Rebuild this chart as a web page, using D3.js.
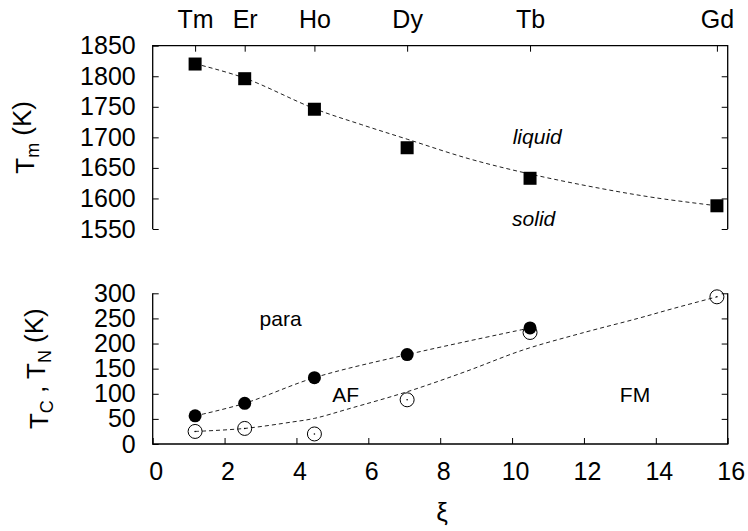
<!DOCTYPE html>
<html><head><meta charset="utf-8">
<script src="https://cdn.jsdelivr.net/npm/d3@7"></script>
<style>
body{margin:0;background:#fff}
text{font-family:"Liberation Sans",Arial,Helvetica,sans-serif;fill:#000}
</style></head>
<body><svg id="c" width="748" height="531"></svg>
<script>
// element labels and their xi positions
const elements = ["Tm","Er","Ho","Dy","Tb","Gd"];
const xi = [1.18, 2.56, 4.5, 7.08, 10.5, 15.7];
// melting temperatures (K)
const meltT = [1820, 1796, 1746, 1683, 1633, 1588];
// dashed guide curve through melting data
const meltFitXi = [1.18, 2.56, 4.5, 5.8, 7.08, 8.8, 10.5, 12.5, 14.0, 15.7];
const meltFitT  = [1820.5, 1797, 1747, 1721, 1697, 1665, 1640, 1616, 1601, 1588];
// Neel temperatures (filled circles), Tm..Tb
const neelT = [56, 81, 132, 178, 231];
// Curie / lower ordering temperatures (open circles), Tm..Gd
const curieT = [25, 31, 20, 88, 222, 293];
// dashed guide curve through Curie data
const curieFitXi = [1.18, 2.56, 3.9, 4.5, 5.5, 7.08, 8.7, 10.3, 11.9, 13.5, 14.5, 15.7];
const curieFitT  = [25, 31, 44, 51, 71, 104, 144, 187, 220, 250, 270, 293];
// axis ticks
const xTicks = [0,2,4,6,8,10,12,14,16];
const yTopTicks = [1550,1600,1650,1700,1750,1800,1850];
const yBotTicks = [0,50,100,150,200,250,300];

const svg = d3.select("#c");
const L = 152.7, R = 727.7;
const x = d3.scaleLinear().domain([0,16]).range([L,R]);
const yT = d3.scaleLinear().domain([1550,1850]).range([229,45.7]);
const yB = d3.scaleLinear().domain([0,300]).range([444,293.3]);
const FS = 25;

function styleAxis(g){
  g.select(".domain").remove();
  g.selectAll(".tick line").attr("stroke","#000").attr("stroke-width",1);
  g.selectAll(".tick text").attr("font-size",FS).attr("font-family","Liberation Sans, Arial, sans-serif").attr("fill","#000");
}
// upper panel axes
svg.append("g").attr("transform",`translate(${L},0)`)
  .call(d3.axisLeft(yT).tickValues(yTopTicks).tickSize(-6).tickPadding(17).tickFormat(d3.format("d"))).call(styleAxis);
svg.append("g").attr("transform",`translate(${R},0)`)
  .call(d3.axisRight(yT).tickValues(yTopTicks.slice(1,-1).concat([1550])).tickSize(-6).tickFormat("")).call(styleAxis);
svg.append("g").attr("transform",`translate(0,${yT(1850)})`)
  .call(d3.axisTop(x).tickValues(xi).tickSize(-6).tickPadding(17.5).tickFormat((d,i)=>elements[i])).call(styleAxis);
// lower panel axes
svg.append("g").attr("transform",`translate(${L},0)`)
  .call(d3.axisLeft(yB).tickValues(yBotTicks).tickSize(-6).tickPadding(17).tickFormat(d3.format("d"))).call(styleAxis);
svg.append("g").attr("transform",`translate(${R},0)`)
  .call(d3.axisRight(yB).tickValues(yBotTicks.slice(1)).tickSize(-6).tickFormat("")).call(styleAxis);
const xb = svg.append("g").attr("transform",`translate(0,${yB(0)})`)
  .call(d3.axisBottom(x).tickValues(xTicks).tickSize(-6).tickPadding(18).tickFormat(d3.format("d"))).call(styleAxis);
xb.selectAll(".tick text").attr("dx",3);

// frames: upper (left, top, right), lower (left, bottom, right)
const fr = svg.append("g").attr("fill","none").attr("stroke","#000").attr("stroke-width",1.3);
fr.append("path").attr("d",`M${L},${yT(1550)}V${yT(1850)}H${R}V${yT(1550)}`);
fr.append("path").attr("d",`M${L},${yB(300)}V${yB(0)}H${R}V${yB(300)}`);

// dashed curves
const dash = "4,3";
const lineT = d3.line().x(d=>x(d[0])).y(d=>yT(d[1])).curve(d3.curveCatmullRom);
svg.append("path").datum(meltFitXi.map((v,i)=>[v,meltFitT[i]]))
  .attr("d",lineT).attr("fill","none").attr("stroke","#222").attr("stroke-width",1).attr("stroke-dasharray",dash);
const lineB = d3.line().x(d=>x(d[0])).y(d=>yB(d[1])).curve(d3.curveCatmullRom);
svg.append("path").datum(neelT.map((v,i)=>[xi[i],v]))
  .attr("d",lineB).attr("fill","none").attr("stroke","#222").attr("stroke-width",1).attr("stroke-dasharray",dash);
svg.append("path").datum(curieFitXi.map((v,i)=>[v,curieFitT[i]]))
  .attr("d",lineB).attr("fill","none").attr("stroke","#222").attr("stroke-width",1).attr("stroke-dasharray",dash);

// markers
const S = 13;
svg.append("g").selectAll("rect").data(meltT).join("rect")
  .attr("x",(d,i)=>x(xi[i])-S/2).attr("y",d=>yT(d)-S/2).attr("width",S).attr("height",S).attr("fill","#000");
const oc = svg.append("g");
oc.selectAll("circle.o").data(curieT).join("circle").attr("class","o")
  .attr("cx",(d,i)=>x(xi[i])).attr("cy",d=>yB(d)).attr("r",7).attr("fill","none").attr("stroke","#000").attr("stroke-width",1);
oc.selectAll("circle.dot").data(curieT).join("circle").attr("class","dot")
  .attr("cx",(d,i)=>x(xi[i])).attr("cy",d=>yB(d)).attr("r",0.8).attr("fill","#000");
svg.append("g").selectAll("circle").data(neelT).join("circle")
  .attr("cx",(d,i)=>x(xi[i])).attr("cy",d=>yB(d)).attr("r",6.5).attr("fill","#000");

// region labels
function lab(t,xv,yv,scale,italic){
  svg.append("text").attr("x",x(xv)).attr("y",scale(yv)).attr("dy","0.36em")
    .attr("text-anchor","middle").attr("font-size",21).attr("font-style",italic?"italic":"normal").text(t);
}
lab("liquid",10.7,1701,yT,true);
lab("solid",10.6,1567,yT,true);
lab("para",3.56,250,yB,false);
lab("AF",5.37,99,yB,false);
lab("FM",13.42,99,yB,false);

// axis titles
const t1 = svg.append("text").attr("transform",`translate(33.5,${(yT(1550)+yT(1850))/2}) rotate(-90)`)
  .attr("text-anchor","middle").attr("font-size",26);
t1.append("tspan").text("T");
t1.append("tspan").attr("font-size",18).attr("dy","0.3em").text("m");
t1.append("tspan").attr("dy","-0.3em").text(" (K)");
const t2 = svg.append("text").attr("transform",`translate(47.5,${(yB(0)+yB(300))/2}) rotate(-90)`)
  .attr("text-anchor","middle").attr("font-size",26);
t2.append("tspan").text("T");
t2.append("tspan").attr("font-size",18).attr("dy","0.3em").text("C");
t2.append("tspan").attr("dy","-0.3em").text(" , T");
t2.append("tspan").attr("font-size",18).attr("dy","0.3em").text("N");
t2.append("tspan").attr("dy","-0.3em").text(" (K)");
svg.append("text").attr("x",442).attr("y",521).attr("text-anchor","middle").attr("font-size",26).text("ξ");
</script></body></html>
